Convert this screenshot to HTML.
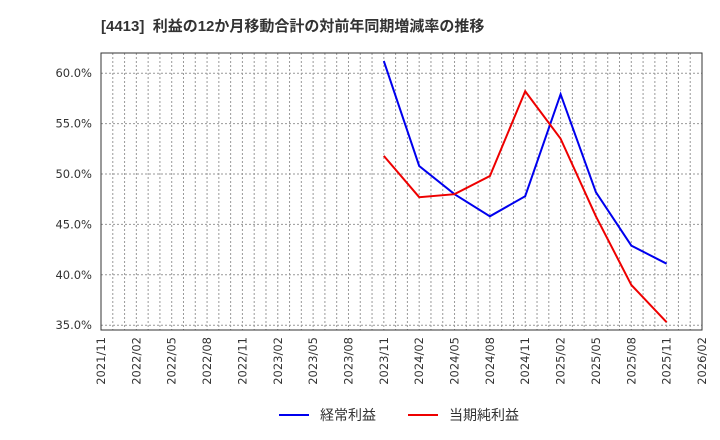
<!DOCTYPE html>
<html><head><meta charset="utf-8"><style>body{margin:0;background:#fff}svg{display:block}</style></head><body>
<svg width="720" height="440" xmlns="http://www.w3.org/2000/svg" font-family="Liberation Sans, DejaVu Sans, Noto Sans CJK JP, sans-serif">
<text x="101" y="31" font-size="15" font-weight="bold" fill="#333" xml:space="preserve" font-family="Liberation Sans, Noto Sans CJK JP, sans-serif">[4413]  利益の12か月移動合計の対前年同期増減率の推移</text>
<g id="grid" stroke="#999" stroke-width="1" stroke-dasharray="2,2"></g>
<g stroke="#999" stroke-width="1" stroke-dasharray="2,2">
<line x1="101" x2="702" y1="73.2" y2="73.2"/><line x1="101" x2="702" y1="123.6" y2="123.6"/><line x1="101" x2="702" y1="174" y2="174"/><line x1="101" x2="702" y1="224.4" y2="224.4"/><line x1="101" x2="702" y1="274.8" y2="274.8"/><line x1="101" x2="702" y1="325.2" y2="325.2"/>
</g>
<rect x="101" y="53" width="601" height="277" fill="none" stroke="#333" stroke-width="1"/>
<g fill="#333" text-anchor="end" font-family="DejaVu Sans, sans-serif" font-size="11.5">
<text x="92" y="77">60.0%</text><text x="92" y="127.5">55.0%</text><text x="92" y="178">50.0%</text><text x="92" y="228.5">45.0%</text><text x="92" y="279">40.0%</text><text x="92" y="329">35.0%</text>
</g>
<polyline fill="none" stroke="#0000ee" stroke-width="2" points="383.8,61 419.2,166 454.5,194.2 489.9,216.3 525.2,196.2 560.6,94.2 595.9,192.2 631.3,245.6 666.6,263.7"/>
<polyline fill="none" stroke="#ee0000" stroke-width="2" points="383.8,155.9 419.2,197.2 454.5,194.2 489.9,176 525.2,91.3 560.6,138.7 595.9,216.3 631.3,284.9 666.6,322.2"/>
<line x1="279" x2="309" y1="415" y2="415" stroke="#0000ee" stroke-width="2"/>
<text x="320" y="420" font-size="14" fill="#333">経常利益</text>
<line x1="408" x2="438" y1="415" y2="415" stroke="#ee0000" stroke-width="2"/>
<text x="449" y="420" font-size="14" fill="#333">当期純利益</text>
<g font-size="11.5" fill="#333" text-anchor="end" font-family="DejaVu Sans, sans-serif">
<text transform="translate(105,337) rotate(-90)">2021/11</text>
<text transform="translate(140.4,337) rotate(-90)">2022/02</text>
<text transform="translate(175.7,337) rotate(-90)">2022/05</text>
<text transform="translate(211.1,337) rotate(-90)">2022/08</text>
<text transform="translate(246.4,337) rotate(-90)">2022/11</text>
<text transform="translate(281.8,337) rotate(-90)">2023/02</text>
<text transform="translate(317.1,337) rotate(-90)">2023/05</text>
<text transform="translate(352.5,337) rotate(-90)">2023/08</text>
<text transform="translate(387.8,337) rotate(-90)">2023/11</text>
<text transform="translate(423.2,337) rotate(-90)">2024/02</text>
<text transform="translate(458.5,337) rotate(-90)">2024/05</text>
<text transform="translate(493.9,337) rotate(-90)">2024/08</text>
<text transform="translate(529.2,337) rotate(-90)">2024/11</text>
<text transform="translate(564.6,337) rotate(-90)">2025/02</text>
<text transform="translate(599.9,337) rotate(-90)">2025/05</text>
<text transform="translate(635.3,337) rotate(-90)">2025/08</text>
<text transform="translate(670.6,337) rotate(-90)">2025/11</text>
<text transform="translate(706,337) rotate(-90)">2026/02</text>
</g>
</svg>
<script>
var g=document.getElementById('grid');
for(var k=1;k<51;k++){var x=101+k*601/51;var l=document.createElementNS('http://www.w3.org/2000/svg','line');l.setAttribute('x1',x);l.setAttribute('x2',x);l.setAttribute('y1',53);l.setAttribute('y2',330);g.appendChild(l);}
</script>
</body></html>
